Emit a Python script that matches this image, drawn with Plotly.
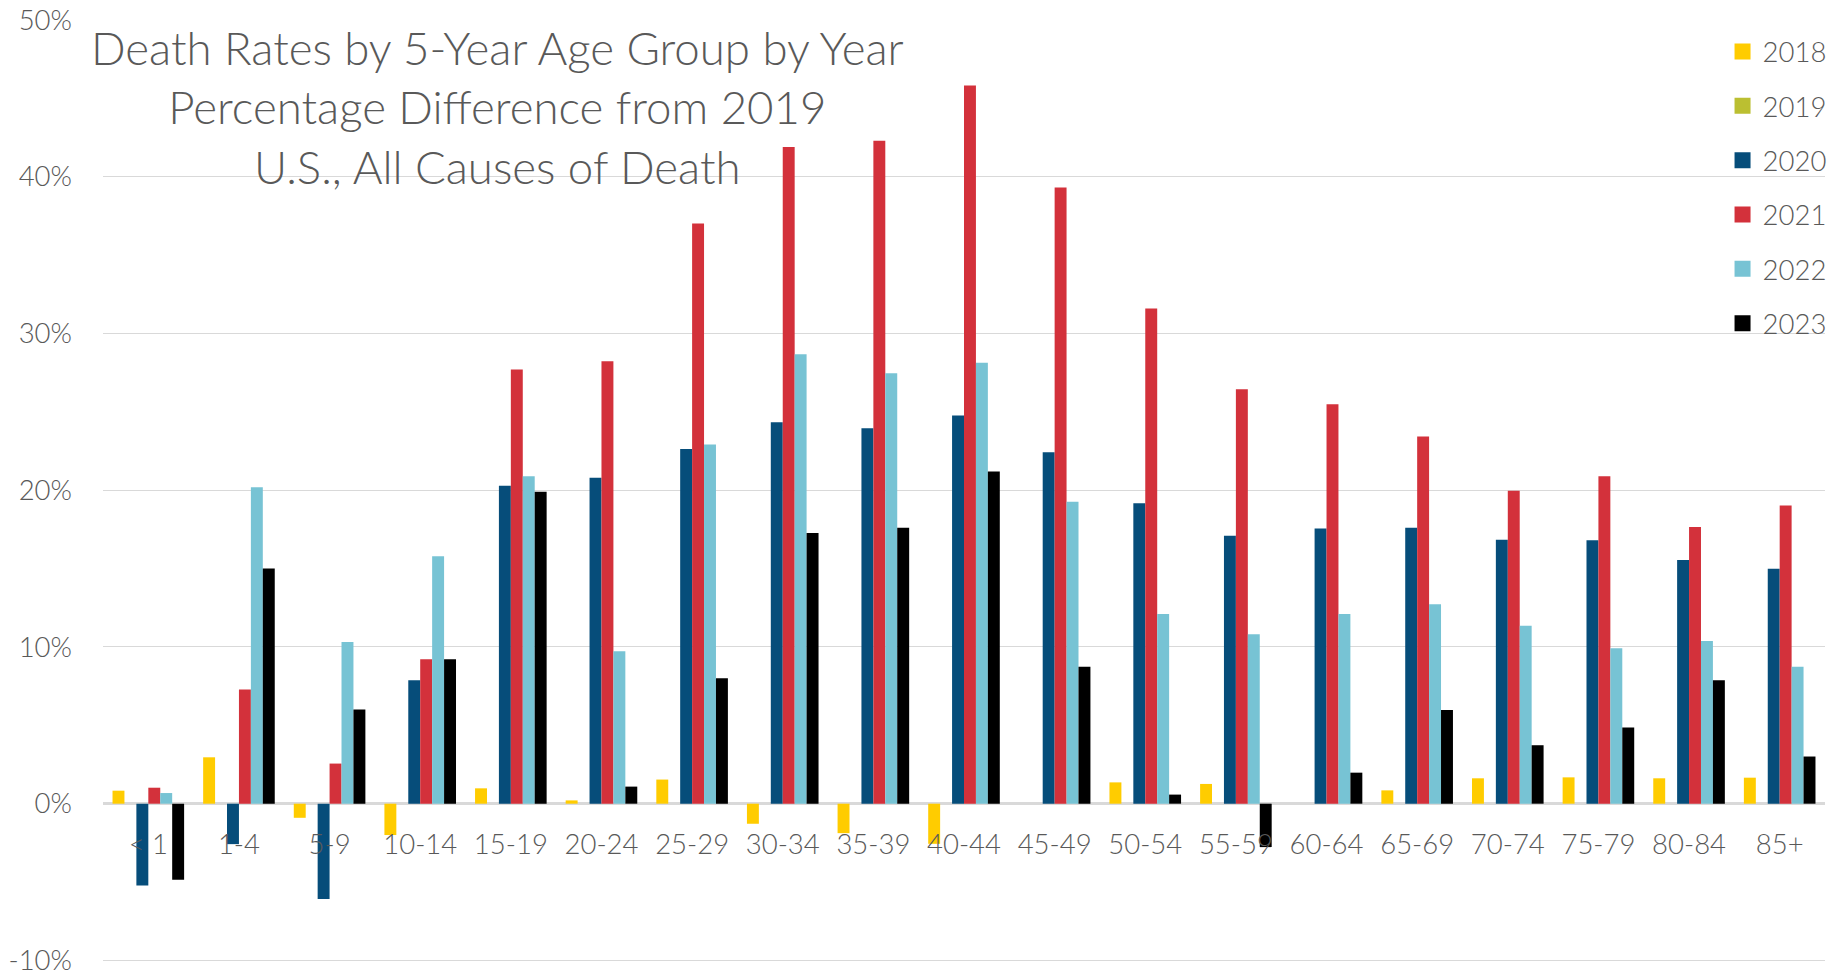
import plotly.graph_objects as go

categories = ["< 1", "1-4", "5-9", "10-14", "15-19", "20-24", "25-29", "30-34", "35-39",
              "40-44", "45-49", "50-54", "55-59", "60-64", "65-69", "70-74", "75-79", "80-84", "85+"]

years = ["2018", "2019", "2020", "2021", "2022", "2023"]

v2018 = [0.83, 2.96, -0.90, -2.00, 0.98, 0.21, 1.54, -1.28, -1.88,
         -2.56, 0.0, 1.36, 1.26, 0.0, 0.85, 1.62, 1.68, 1.62, 1.66]
v2019 = [0.0] * 19
v2020 = [-5.22, -2.58, -6.08, 7.87, 20.29, 20.80, 22.63, 24.33, 23.95,
         24.76, 22.42, 19.17, 17.10, 17.55, 17.61, 16.84, 16.80, 15.54, 14.99]
v2021 = [1.02, 7.29, 2.56, 9.21, 27.70, 28.23, 37.01, 41.90, 42.29,
         45.82, 39.31, 31.59, 26.44, 25.48, 23.42, 19.96, 20.89, 17.65, 19.02]
v2022 = [0.68, 20.19, 10.32, 15.78, 20.89, 9.72, 22.91, 28.67, 27.46,
         28.14, 19.27, 12.11, 10.81, 12.11, 12.73, 11.36, 9.91, 10.38, 8.74]
v2023 = [-4.86, 15.01, 6.01, 9.21, 19.91, 1.09, 8.00, 17.27, 17.61,
         21.19, 8.74, 0.58, -2.77, 1.98, 5.97, 3.73, 4.86, 7.87, 3.01]

series = [v2018, v2019, v2020, v2021, v2022, v2023]
colors = ["#FFCC00", "#BBBF31", "#064D7A", "#D3313B", "#77C3D4", "#000000"]

ytick_vals = [-10, 0, 10, 20, 30, 40, 50]
ytick_text = ["-10%", "0%", "10%", "20%", "30%", "40%", "50%"]

title_lines = ["Death Rates by 5-Year Age Group by Year",
               "Percentage Difference from 2019",
               "U.S., All Causes of Death"]

FONT = "Lato"
GRAY = "#595959"
TICK_SIZE = 27.5

Y_MIN, Y_MAX = -10.1, 50.0
PX_PER_UNIT = 940.3 / 60.0
plot_h = (Y_MAX - Y_MIN) * PX_PER_UNIT
bottom_margin = 973 - 20 - plot_h

fig = go.Figure()
for name, vals, col in zip(years, series, colors):
    fig.add_trace(go.Bar(x=categories, y=vals, name=name, marker_color=col,
                         marker_line_width=0, showlegend=False))
# legend entries with larger square swatches
for name, col in zip(years, colors):
    fig.add_trace(go.Scatter(x=[categories[0]], y=[None], name=name, mode="markers",
                             marker=dict(symbol="square", size=18, color=col),
                             legendgroup=name, showlegend=True, hoverinfo="skip"))

fig.update_layout(
    width=1831, height=973,
    margin=dict(l=103, r=6, t=20, b=bottom_margin, autoexpand=False),
    paper_bgcolor="white", plot_bgcolor="white",
    barmode="group", bargap=0.21, bargroupgap=0,
    font=dict(family=FONT, color=GRAY, size=TICK_SIZE, weight=300),
    showlegend=True,
    legend=dict(x=0.9405, xanchor="left", y=0.9925, yanchor="top",
                font=dict(family=FONT, size=TICK_SIZE, color=GRAY, weight=300),
                traceorder="grouped", tracegroupgap=15.6, itemsizing="trace",
                bgcolor="rgba(0,0,0,0)"),
    xaxis=dict(type="category", range=[-0.5, len(categories) - 0.5],
               showgrid=False, showline=False, zeroline=False,
               ticks="", anchor="free", position=(0 - Y_MIN) / (Y_MAX - Y_MIN),
               ticklabelstandoff=22, automargin=False,
               tickfont=dict(family=FONT, size=TICK_SIZE, color=GRAY, weight=300)),
    yaxis=dict(range=[Y_MIN, Y_MAX], tickvals=ytick_vals, ticktext=ytick_text,
               showgrid=True, gridcolor="#D9D9D9", gridwidth=1,
               zeroline=True, zerolinecolor="#D9D9D9", zerolinewidth=2.5,
               showline=False, ticks="", ticklabelstandoff=30, automargin=False,
               ticklabeloverflow="allow",
               tickfont=dict(family=FONT, size=TICK_SIZE, color=GRAY, weight=300)),
    annotations=[dict(text="<br>".join(title_lines), xref="paper", yref="paper",
                      x=(497.5 - 103) / 1722, xanchor="center", y=1.0, yanchor="top",
                      yshift=2, showarrow=False, align="center",
                      font=dict(family=FONT, size=45.6, color=GRAY, weight=300))],
)

fig.write_html("out.html", config={"displayModeBar": False},
               post_script="document.body.style.margin='0';document.body.style.overflow='hidden';")
